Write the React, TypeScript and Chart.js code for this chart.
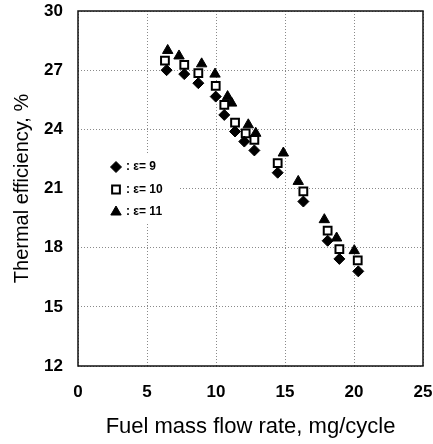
import React, { useEffect, useRef } from 'react';
import { Chart, registerables } from 'chart.js';
import { drawPoint } from 'chart.js/helpers';

Chart.register(...registerables);

// ε = 9 (filled diamonds)
const eps9X = [6.42, 7.7, 8.72, 9.98, 10.6, 11.38, 12.05, 12.78, 14.47, 16.33, 18.09, 18.94, 20.31];
const eps9Y = [27.0, 26.8, 26.34, 25.66, 24.73, 23.89, 23.38, 22.93, 21.8, 20.34, 18.35, 17.43, 16.8];
// ε = 10 (open squares)
const eps10X = [6.3, 7.7, 8.72, 9.98, 10.6, 11.38, 12.15, 12.78, 14.47, 16.33, 18.09, 18.94, 20.27];
const eps10Y = [27.48, 27.27, 26.85, 26.2, 25.24, 24.34, 23.8, 23.47, 22.29, 20.85, 18.86, 17.93, 17.36];
// ε = 11 (filled triangles)
const eps11X = [6.5, 7.32, 8.96, 9.93, 10.84, 11.13, 12.34, 12.88, 14.88, 15.96, 17.85, 18.74, 20.02];
const eps11Y = [28.0, 27.72, 27.32, 26.8, 25.66, 25.33, 24.23, 23.8, 22.8, 21.36, 19.42, 18.49, 17.85];

const seriesLabels = ['ε= 9', 'ε= 10', 'ε= 11'];
const xTitle = 'Fuel mass flow rate, mg/cycle';
const yTitle = 'Thermal efficiency, %';

const FONT = '"Liberation Sans", Arial, Helvetica, sans-serif';

const toPoints = (xs: number[], ys: number[]) => xs.map((x, i) => ({ x, y: ys[i] }));

const insideLegend = {
  id: 'insideLegend',
  beforeDatasetsDraw(chart: any) {
    const { ctx, chartArea: a } = chart;
    ctx.save();
    ctx.fillStyle = '#ffffff';
    ctx.fillRect(a.left + 2, a.top + 142, 100, 70);
    chart.data.datasets.forEach((ds: any, i: number) => {
      const cy = a.top + 156 + i * 22.5;
      const cx = a.left + 38;
      ctx.save();
      ctx.fillStyle = ds.backgroundColor;
      ctx.strokeStyle = ds.borderColor;
      ctx.lineWidth = ds.borderWidth;
      drawPoint(ctx, { pointStyle: ds.pointStyle, rotation: 0, radius: ds.pointRadius, borderWidth: ds.borderWidth }, cx, cy);
      ctx.restore();
      ctx.fillStyle = '#000';
      ctx.font = `bold 12px ${FONT}`;
      ctx.textBaseline = 'middle';
      ctx.textAlign = 'left';
      ctx.fillText(': ' + ds.label, cx + 10, cy);
    });
    ctx.restore();
  },
};

const frame = {
  id: 'frame',
  afterDraw(chart: any) {
    const { ctx, chartArea: a } = chart;
    ctx.save();
    ctx.strokeStyle = '#111';
    ctx.lineWidth = 1.5;
    ctx.strokeRect(a.left, a.top, a.right - a.left, a.bottom - a.top);
    ctx.restore();
  },
};

const noPad = (s: any) => {
  s.paddingTop = 0;
  s.paddingBottom = 0;
  s.paddingLeft = 0;
  s.paddingRight = 0;
};

export default function App() {
  const ref = useRef<HTMLCanvasElement | null>(null);
  useEffect(() => {
    if (!ref.current) return;
    const chart = new Chart(ref.current, {
      type: 'scatter',
      data: {
        datasets: [
          {
            label: seriesLabels[0],
            data: toPoints(eps9X, eps9Y),
            pointStyle: 'rectRot',
            pointRadius: 5.5,
            backgroundColor: '#000',
            borderColor: '#000',
            borderWidth: 1,
          },
          {
            label: seriesLabels[1],
            data: toPoints(eps10X, eps10Y),
            pointStyle: 'rect',
            pointRadius: 5.5,
            backgroundColor: '#fff',
            borderColor: '#000',
            borderWidth: 2,
          },
          {
            label: seriesLabels[2],
            data: toPoints(eps11X, eps11Y),
            pointStyle: 'triangle',
            pointRadius: 6,
            backgroundColor: '#000',
            borderColor: '#000',
            borderWidth: 1,
          },
        ] as any,
      },
      options: {
        animation: false,
        responsive: false,
        layout: { padding: { left: 0, top: 11, right: 10, bottom: 0 } },
        plugins: { legend: { display: false }, tooltip: { enabled: false } },
        scales: {
          x: {
            type: 'linear',
            min: 0,
            max: 25,
            ticks: { stepSize: 5, padding: 16, color: '#000', font: { family: FONT, size: 17, weight: 'bold' } },
            grid: { color: '#8a8a8a', lineWidth: 1, drawTicks: false },
            border: { display: false, dash: [1, 2] },
            title: { display: true, text: xTitle, color: '#000', padding: { top: 0, bottom: 4 }, font: { family: FONT, size: 22 } },
            afterFit: (s: any) => { s.height = 78; noPad(s); },
          },
          y: {
            type: 'linear',
            min: 12,
            max: 30,
            ticks: { stepSize: 3, padding: 15, color: '#000', font: { family: FONT, size: 17, weight: 'bold' } },
            grid: { color: '#8a8a8a', lineWidth: 1, drawTicks: false },
            border: { display: false, dash: [1, 2] },
            title: { display: true, text: yTitle, color: '#000', padding: { top: 10, bottom: 0 }, font: { family: FONT, size: 20 } },
            afterFit: (s: any) => { s.width = 78; noPad(s); },
          },
        },
      } as any,
      plugins: [insideLegend, frame],
    });
    return () => chart.destroy();
  }, []);
  return (
    <div style={{ position: 'fixed', left: 0, top: 0, width: 433, height: 444, background: '#fff' }}>
      <canvas ref={ref} width={433} height={444} style={{ display: 'block' }} />
    </div>
  );
}
